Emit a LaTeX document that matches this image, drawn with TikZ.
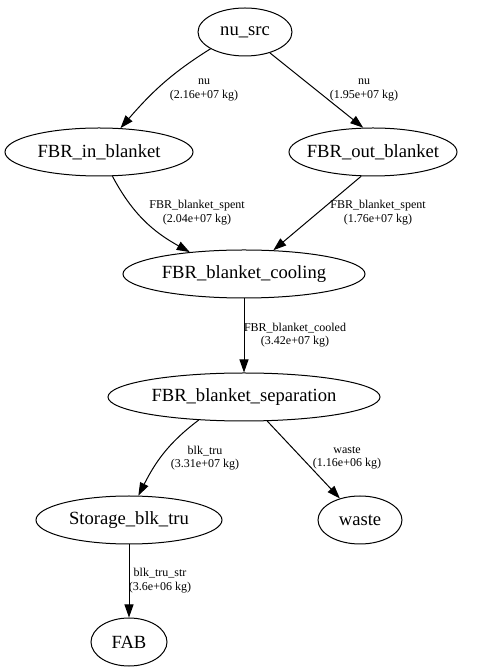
\documentclass[tikz,border=0pt]{standalone}
\usepackage{fontspec}
\setmainfont{Liberation Serif}
\usetikzlibrary{shapes.geometric,arrows.meta}
\begin{document}
\begin{tikzpicture}[x=1pt,y=1pt,
 proc/.style={draw,ellipse,inner xsep=-30pt,inner ysep=0pt,minimum height=48pt,line width=1pt,font=\fontsize{18.6}{20}\selectfont},
 elabel/.style={align=center,inner sep=0pt,font=\fontsize{12}{13.5}\selectfont},
 flow/.style={line width=1pt,-{Triangle[length=13pt,width=9pt]}}]
\useasboundingbox[fill=white] (0,0) rectangle (496,672);
\node[proc,minimum width=94pt] (nu) at (245,640) {nu\_src};
\node[proc,minimum width=188pt] (inb) at (99,520) {FBR\_in\_blanket};
\node[proc,minimum width=168pt] (outb) at (373,520) {FBR\_out\_blanket};
\node[proc,minimum width=242pt] (cool) at (244,398) {FBR\_blanket\_cooling};
\node[proc,minimum width=272pt] (sep) at (244,275) {FBR\_blanket\_separation};
\node[proc,minimum width=186pt] (stor) at (129,152) {Storage\_blk\_tru};
\node[proc,minimum width=84pt] (waste) at (360,152) {waste};
\node[proc,minimum width=76pt] (fab) at (129,30) {FAB};

\node[elabel] (l1) at (204,582) {nu\\(2.16e+07 kg)};
\node[elabel] (l2) at (364,582) {nu\\(1.95e+07 kg)};
\node[elabel] (l3) at (197,459.5) {FBR\_blanket\_spent\\(2.04e+07 kg)};
\node[elabel] (l4) at (378,459.5) {FBR\_blanket\_spent\\(1.76e+07 kg)};
\node[elabel] (l5) at (295,337) {FBR\_blanket\_cooled\\(3.42e+07 kg)};
\node[elabel] (l6) at (205,214) {blk\_tru\\(3.31e+07 kg)};
\node[elabel] (l7) at (347,214) {waste\\(1.16e+06 kg)};
\node[elabel] (l8) at (160,91.5) {blk\_tru\_str\\(3.6e+06 kg)};

\draw[flow] (nu.206) to[out=-148,in=49] (inb.48);
\draw[flow] (nu.-40) -- (outb.112);
\draw[flow] (inb.-61) to[out=-62,in=151] (cool.158);
\draw[flow] (outb.244) -- (cool.39);
\draw[flow] (cool.south) -- (sep.north);
\draw[flow] (sep.207) to[out=217,in=63] (stor.69);
\draw[flow] (sep.-46) -- (waste.133);
\draw[flow] (stor.south) -- (fab.north);
\end{tikzpicture}
\end{document}
